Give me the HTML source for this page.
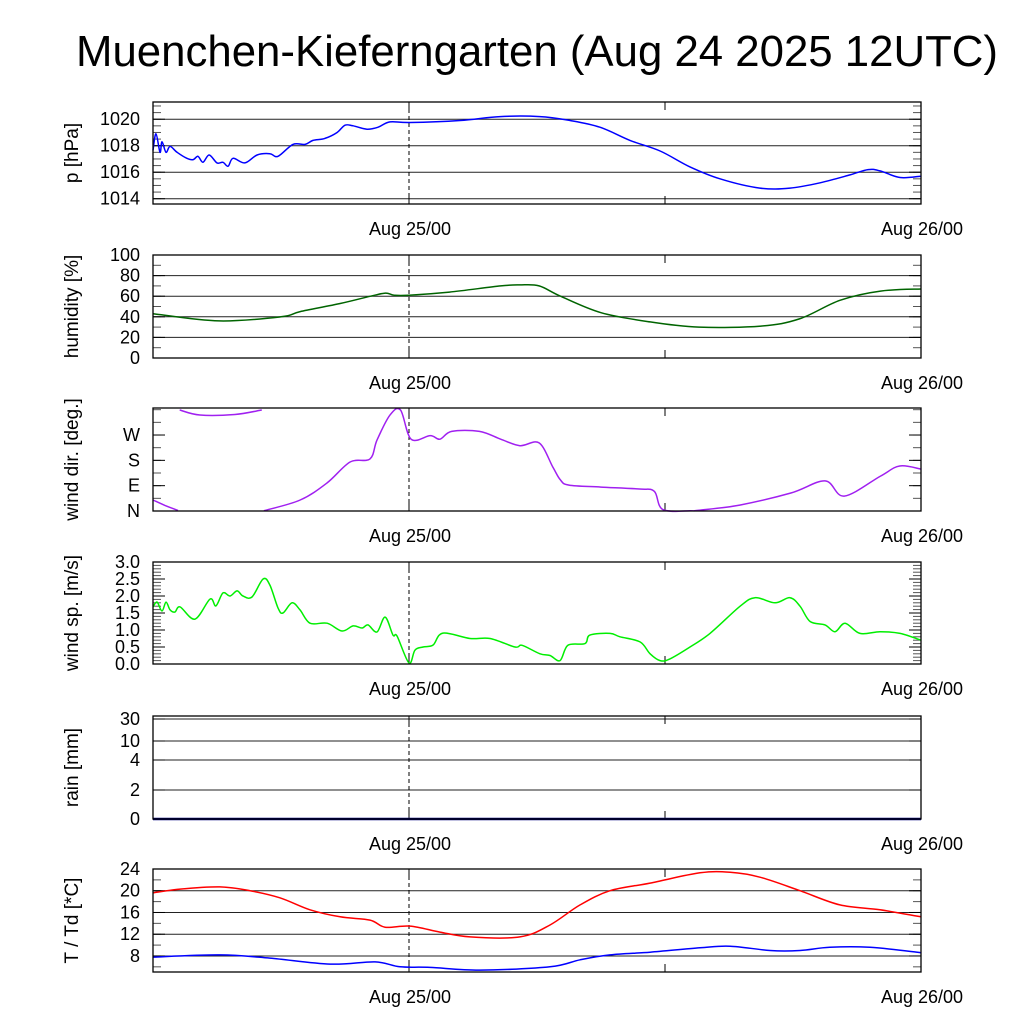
<!DOCTYPE html>
<html><head><meta charset="utf-8"><style>
body{margin:0;background:#fff;}
svg{display:block;font-family:"Liberation Sans",sans-serif;}
</style></head><body>
<svg id="chart" width="1024" height="1024" viewBox="0 0 1024 1024">
<text x="537" y="66" font-size="44" text-anchor="middle" textLength="922" lengthAdjust="spacingAndGlyphs">Muenchen-Kieferngarten (Aug 24 2025 12UTC)</text>
</svg>
<script>
// ---- data (time in hours after Aug 24 12UTC) ----
const pTime=[0,0.14,0.33,0.42,0.61,0.8,1.13,1.59,1.88,2.11,2.34,2.63,3.0,3.28,3.52,3.75,4.31,4.88,5.48,5.86,6.56,7.13,7.5,8.06,8.63,9.0,9.38,10.03,10.55,11.11,12.05,14.39,16.27,18.14,19.55,20.95,22.36,23.77,25.17,26.58,28.45,29.86,31.27,32.67,33.52,34.08,35.02,36];
const pVal=[1017.65,1018.9,1017.5,1018.3,1017.5,1017.95,1017.5,1017.05,1016.95,1017.2,1016.75,1017.3,1016.7,1016.75,1016.45,1017.05,1016.7,1017.3,1017.4,1017.2,1018.1,1018.1,1018.4,1018.55,1019.0,1019.55,1019.5,1019.25,1019.4,1019.8,1019.75,1019.9,1020.2,1020.2,1019.9,1019.4,1018.4,1017.6,1016.4,1015.5,1014.8,1014.8,1015.2,1015.8,1016.2,1016.1,1015.6,1015.7];
const hTime=[0,3.1,6.0,6.9,8.8,10.2,10.9,11.3,12.0,13.9,16.3,17.2,18.1,19.1,21.0,23.3,25.6,28.5,30.3,32.2,34.1,36];
const hVal=[43,36,40,45,53,60,63,61,61,64,70,71,70,60,44,35,30,31,38,56,65,67];
const dTime=[0,0.56,1.17,1.25,2.2,3.84,5.1,5.2,6.9,8.16,9.24,10.17,10.5,11.1,11.6,12.1,13,13.45,14,15.3,16.3,17.2,18.1,18.75,19.1,19.5,21,22.8,23.5,23.9,25.2,25.6,27.5,29.9,31.5,32.4,34.1,35,36];
const dVal=[39,20,2,359,341,343,359,1,39,100,174,185,252,340,359,255,268,255,283,283,255,232,242,155,110,92,85,78,70,5,1,3,21,64,107,53,124,160,149];
const sTime=[0,0.19,0.42,0.61,0.8,1.03,1.27,1.97,2.67,2.95,3.28,3.61,3.94,4.22,4.64,5.16,5.48,5.86,6.09,6.52,6.89,7.36,8.16,8.86,9.38,9.8,10.08,10.5,10.88,11.25,11.44,12.0,12.28,12.66,13.13,13.59,14.86,15.8,16.97,17.3,18.14,18.61,19.08,19.45,20.25,20.48,21.42,21.89,22.83,23.3,23.77,24.23,25.17,26.11,27.52,28.22,29.16,29.86,30.33,30.8,31.5,31.97,32.44,33.14,34.08,35.02,36];
const sVal=[1.68,1.82,1.56,1.82,1.59,1.53,1.68,1.32,1.91,1.71,2.09,2.0,2.15,2.0,1.97,2.5,2.32,1.65,1.5,1.8,1.59,1.2,1.2,0.97,1.12,1.06,1.15,0.94,1.38,0.85,0.82,0.03,0.41,0.5,0.56,0.91,0.75,0.75,0.5,0.55,0.3,0.25,0.1,0.55,0.6,0.85,0.9,0.8,0.65,0.3,0.1,0.15,0.5,0.9,1.7,1.95,1.8,1.95,1.7,1.25,1.15,0.95,1.2,0.9,0.95,0.9,0.7];
const rTime=[0,12,24,36];
const rVal=[0,0,0,0];
const tTime=[0,1.27,3.14,4.55,5.95,7.36,8.77,10.17,10.88,12.05,13.45,14.86,17.2,18.61,20.02,21.42,23.3,25.64,27.05,28.45,30.33,32.2,34.08,36];
const tVal=[19.6,20.3,20.7,20.0,18.7,16.5,15.2,14.6,13.3,13.5,12.4,11.5,11.5,13.7,17.4,20.0,21.4,23.3,23.4,22.5,20.0,17.4,16.5,15.2];
const tdTime=[0,3.14,5.48,8.3,10.41,11.58,12.98,15.33,18.61,20.02,21.42,23.3,25.64,27.05,28.92,30.33,31.73,33.61,36];
const tdVal=[7.8,8.2,7.6,6.5,6.9,6.0,5.9,5.4,6.0,7.3,8.2,8.7,9.5,9.8,9.0,9.0,9.6,9.6,8.6];
const xLabels=["Aug 25/00","Aug 26/00"];
const xLabelHours=[12,36];

const NS="http://www.w3.org/2000/svg";
const svg=document.getElementById('chart');
const X0=153,X1=921,TSPAN=36;
const xs=h=>X0+(X1-X0)*h/TSPAN;
function el(tag,attrs,parent){const e=document.createElementNS(NS,tag);for(const k in attrs)e.setAttribute(k,attrs[k]);(parent||svg).appendChild(e);return e;}
function smoothPath(pts){
  if(pts.length<2)return '';
  let d='M'+pts[0][0].toFixed(1)+','+pts[0][1].toFixed(1);
  for(let i=0;i<pts.length-1;i++){
    const p0=pts[Math.max(0,i-1)],p1=pts[i],p2=pts[i+1],p3=pts[Math.min(pts.length-1,i+2)];
    const c1x=p1[0]+(p2[0]-p0[0])/6,c1y=p1[1]+(p2[1]-p0[1])/6;
    const c2x=p2[0]-(p3[0]-p1[0])/6,c2y=p2[1]-(p3[1]-p1[1])/6;
    d+=' C'+c1x.toFixed(1)+','+c1y.toFixed(1)+' '+c2x.toFixed(1)+','+c2y.toFixed(1)+' '+p2[0].toFixed(1)+','+p2[1].toFixed(1);
  }
  return d;
}

function panel(cfg){
  const g=el('g',{});
  
  
  const ys=cfg.ys;
  (cfg.grid||[]).forEach(v=>{const l=el('line',{x1:X0,x2:X1,y1:ys(v),y2:ys(v),stroke:'#222','stroke-width':1},g);
    
    });
  (cfg.minor||[]).forEach(v=>{const y=ys(v);
    el('line',{x1:X0,x2:X0+8,y1:y,y2:y,stroke:'#555','stroke-width':1},g);
    el('line',{x1:X1-8,x2:X1,y1:y,y2:y,stroke:'#555','stroke-width':1},g);});
  cfg.labels.forEach((lab,i)=>{const y=ys(cfg.labelVals[i]);
    el('line',{x1:X0,x2:X0+12,y1:y,y2:y,stroke:'#000'},g);
    el('line',{x1:X1-12,x2:X1,y1:y,y2:y,stroke:'#000'},g);
    const t=el('text',{x:X0-13,y:y+6,'font-size':18,'text-anchor':'end'},g);t.textContent=lab;
    
    });
  [12,24].forEach(h=>{el('line',{x1:xs(h),x2:xs(h),y1:cfg.bot,y2:cfg.bot-8,stroke:'#000'},g);el('line',{x1:xs(h),x2:xs(h),y1:cfg.top,y2:cfg.top+8,stroke:'#000'},g);});
  const d=el('line',{x1:xs(12),x2:xs(12),y1:cfg.top,y2:cfg.bot,stroke:'#000','stroke-dasharray':'4,3'},g);
  
  
  cfg.series.forEach(s=>{
    let segs=[[]];
    for(let i=0;i<s.t.length;i++){
      if(s.wrap&&i>0&&Math.abs(s.v[i]-s.v[i-1])>180)segs.push([]);
      segs[segs.length-1].push([xs(s.t[i]),ys(s.v[i])]);
    }
    segs.forEach(sg=>{if(sg.length<2)return;const p=el('path',{d:smoothPath(sg),fill:'none',stroke:s.color,'stroke-width':s.w||1.5},g);
      
      });
  });
  el('rect',{x:X0,y:cfg.top,width:X1-X0,height:cfg.bot-cfg.top,fill:'none',stroke:'#000','stroke-width':1.3},g);
  xLabels.forEach((lab,i)=>{const t=el('text',{x:xs(xLabelHours[i])+1,y:cfg.bot+31,'font-size':18,'text-anchor':'middle'},g);t.textContent=lab;
    
    });
  const cy=(cfg.top+cfg.bot)/2;
  const t=el('text',{x:0,y:0,'font-size':19,'text-anchor':'middle',transform:`translate(${cfg.tx||78},${cy}) rotate(-90)`},g);t.textContent=cfg.title;
  
  
}
const lin=(top,bot,lo,hi)=>v=>bot-(v-lo)/(hi-lo)*(bot-top);
const rng=(a,b,s)=>{const r=[];for(let v=a;v<=b+1e-9;v+=s)r.push(v);return r;};

panel({name:'pressure',top:102,bot:204,ys:lin(102,204,1013.6,1021.3),grid:[1014,1016,1018,1020],minor:rng(1014,1021,0.5),
  labels:['1020','1018','1016','1014'],labelVals:[1020,1018,1016,1014],title:'p [hPa]',
  series:[{t:pTime,v:pVal,color:'#0000ff',name:'pressure-line'}]});
panel({name:'humidity',top:255,bot:358,ys:lin(255,358,0,100),grid:[20,40,60,80],minor:rng(0,100,10),
  labels:['100','80','60','40','20','0'],labelVals:[100,80,60,40,20,0],title:'humidity [%]',
  series:[{t:hTime,v:hVal,color:'#006400',name:'humidity-line'}]});
panel({name:'wind-dir',top:408,bot:511,ys:lin(408,511,0,366),grid:[],minor:rng(0,360,45),
  labels:['W','S','E','N'],labelVals:[270,180,90,0],title:'wind dir. [deg.]',
  series:[{t:dTime,v:dVal,color:'#a020f0',name:'wind-direction-line',wrap:true}]});
panel({name:'wind-speed',top:562,bot:664,ys:lin(562,664,0,3),grid:[],minor:rng(0,3,0.1),
  labels:['3.0','2.5','2.0','1.5','1.0','0.5','0.0'],labelVals:[3,2.5,2,1.5,1,0.5,0],title:'wind sp. [m/s]',
  series:[{t:sTime,v:sVal,color:'#00ee00',name:'wind-speed-line'}]});
const rainY=v=>{const kv=[0,2,4,10,30],ky=[819,790,760,741,719];
  for(let i=1;i<kv.length;i++){if(v<=kv[i])return ky[i-1]+(v-kv[i-1])/(kv[i]-kv[i-1])*(ky[i]-ky[i-1]);}return 716;};
panel({name:'rain',top:716,bot:819,ys:rainY,grid:[2,4,10,30],minor:[],
  labels:['30','10','4','2','0'],labelVals:[30,10,4,2,0],title:'rain [mm]',
  series:[{t:rTime,v:rVal,color:'#000080',name:'rain-line',w:2.5}]});
panel({name:'temperature',top:869,bot:972,ys:lin(869,972,5.05,24),grid:[8,12,16,20],minor:rng(6,24,2),
  labels:['24','20','16','12','8'],labelVals:[24,20,16,12,8],title:'T / Td [*C]',
  series:[{t:tTime,v:tVal,color:'#ff0000',name:'temperature-line'},{t:tdTime,v:tdVal,color:'#0000ff',name:'dewpoint-line'}]});
</script>
</body></html>
